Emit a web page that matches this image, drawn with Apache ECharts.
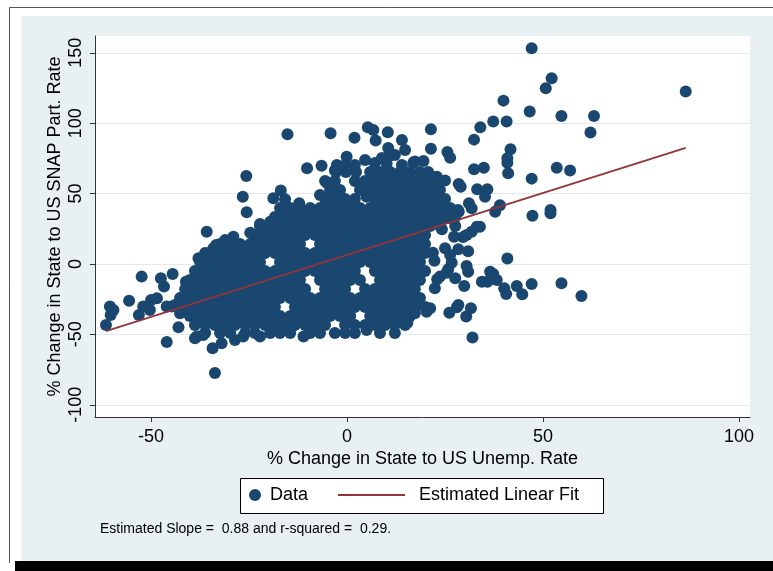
<!DOCTYPE html>
<html>
<head>
<meta charset="utf-8">
<script src="https://cdn.jsdelivr.net/npm/echarts@6/dist/echarts.min.js"></script>
<style>
  html, body { margin: 0; padding: 0; background: #ffffff; }
  #chart { width: 773px; height: 571px; }
</style>
</head>
<body>
<div id="chart"></div>
<script>
// Axis ticks
const xTicks = [-50, 0, 50, 100];
const yTicks = [-100, -50, 0, 50, 100, 150];

// Regression summary
const fitSlope = 0.88;
const fitIntercept = 6.4;
const rSquared = 0.29;

// State observations: [% change in unemployment ratio, % change in SNAP participation ratio]
const upperPoints = [
  [47.1,153.2],[52.2,131.9],[50.7,124.8],[86.4,122.4],[39.9,116.0],[46.6,108.2],[54.7,105.1],[63.0,105.1],
  [37.3,101.1],[40.7,101.1],[34.0,97.1],[62.1,93.3],[21.4,95.7],[14.0,88.1],[32.4,88.3],[21.4,81.9],
  [25.6,79.5],[26.3,75.5],[41.7,81.5],[40.9,75.1],[40.9,71.9],[41.1,64.4],[32.4,67.3],[34.9,68.4],
  [47.1,60.6],[53.5,68.4],[56.9,66.3],[28.5,56.8],[29.0,54.9],[33.2,53.1],[35.8,53.1],[35.2,47.8],
  [39.0,41.7],[37.8,37.1],[47.3,34.3],[51.9,38.4],[51.9,36.0],[31.1,43.1],[31.8,39.6],[28.5,37.1],
  [22.4,49.0],[21.4,62.0],[22.9,62.0],[25.0,59.2],[17.3,72.7],[19.5,73.2],
  [-15.2,92.1],[-4.2,92.8],[1.9,89.7],[5.3,97.1],[6.7,95.2],[7.3,87.6],[10.4,93.5],
  [-0.1,76.2],[-10.2,68.0],[-6.5,69.8],[-2.6,70.3],[-3.1,66.3],[-0.5,70.3],[10.7,76.7],[10.1,71.5],
  [14.0,70.3],[16.9,71.9],[-25.7,62.5],[-5.0,57.3],[-26.6,47.8],[-25.6,36.7],[-18.8,46.7],[-16.9,52.1],
  [-12.2,43.1],[-14.5,38.4],[-6.9,49.0],[-5.2,43.1],[5.0,47.8],[-15.8,46.0],[-19.6,30.0],[-22.2,28.4],
  [-24.7,22.2],[-21.4,20.6],[-26.0,11.9],
  [10.5,82.4],[12.2,77.4],[14.8,81.0],[8.9,75.3],[7.1,71.7],[4.6,73.9],[2.0,70.3],
  [20.7,61.8],[23.0,45.5],[20.7,38.4],[23.2,38.4],[28.3,38.4],[29.6,19.2]
];

const rightPoints = [
  [26.3,32.5],[27.6,27.0],[33.1,26.5],[33.9,26.5],[24.2,24.6],[31.8,22.9],[30.5,20.6],[27.3,19.4],
  [19.9,14.2],[25.0,11.2],[28.4,10.4],[30.9,9.0],[21.9,8.0],[22.3,2.3],[26.3,6.4],[26.7,0.9],
  [40.9,3.8],[30.5,-1.4],[30.9,-5.5],[25.8,-3.8],[25.4,-6.2],[36.5,-5.5],[37.3,-7.1],[38.2,-11.4],
  [34.4,-12.6],[35.8,-12.6],[23.7,-9.0],[23.0,-10.9],[27.6,-10.2],[18.2,-10.9],[29.9,-15.6],[22.4,-17.3],
  [40.1,-17.3],[40.6,-21.3],[43.3,-15.6],[44.7,-21.5],[47.1,-14.2],[54.7,-13.7],[59.8,-22.7],
  [21.2,-31.5],[20.3,-33.9],[26.1,-34.6],[28.0,-30.8],[28.4,-29.1],[31.6,-31.5],[30.4,-37.4],
  [17.3,-35.0],[15.4,-41.7],[32.0,-52.3]
];

const leftPoints = [
  [-61.5,-43.3],[-60.3,-36.2],[-59.6,-32.7],[-60.5,-30.3],[-55.6,-26.1],[-52.4,-9.0],[-53.1,-36.2],
  [-52.0,-30.3],[-50.3,-32.7],[-50.0,-25.6],[-48.5,-24.4],[-47.5,-10.2],[-46.7,-16.1],[-44.5,-7.1],
  [-46.0,-30.3],[-44.7,-30.3],[-43.0,-45.0],[-46.0,-55.4],[-41.1,-12.6],[-41.8,-23.2],[-37.9,4.0],
  [-37.1,-1.9],[-35.8,22.9],[-33.7,-77.4],[-34.3,-59.9],[-38.3,-51.6],[-36.7,-50.4],[-33.4,13.5],
  [-31.1,17.0],[-29.0,19.4],[-22.2,-51.6],[-11.1,-51.6],[5.0,-46.9],[-42.6,-35.0],[-40.9,-32.7],
  [-38.8,-52.8],[-32.0,-56.3],[-28.6,-54.0],[-26.5,-51.6],[-43.9,-29.1],[-30.3,14.7],[-28.6,12.3],
  [-29.4,5.2],[-27.7,7.6],[-35.4,7.6],[-34.1,11.2],[-32.8,13.5]
];

// Central mass, one row of x values per y level
const coreRows = [
  [65.3, [-2.8,-0.3,2.3,5.9,8.4,11.0,13.5,16.1,18.6,20.7]],
  [58.9, [-5.6,-3.1,2.0,4.6,7.1,9.7,12.2,14.8,17.3,19.9,22.4]],
  [52.6, [-4.3,-1.8,3.3,5.9,8.4,11.0,13.5,16.1,18.6,21.2,23.7]],
  [46.2, [-5.6,-3.1,-0.5,2.0,7.1,9.7,12.2,14.8,17.3,19.9,22.4,25.0]],
  [39.8, [-17.1,-14.5,-12.0,-9.4,-6.9,-4.3,-1.8,0.8,3.3,5.9,8.4,11.0,13.5,16.1,18.6,21.2,23.7,26.3]],
  [33.4, [-18.4,-15.8,-13.3,-10.7,-8.2,-5.6,-3.1,-0.5,2.0,4.6,7.1,9.7,12.2,14.8,17.3,19.9,22.4,25.0,27.6]],
  [27.0, [-22.2,-19.6,-17.1,-14.5,-12.0,-9.4,-6.9,-4.3,-1.8,0.8,3.3,5.9,8.4,11.0,13.5,16.1,18.6,21.2,23.7]],
  [20.6, [-23.5,-20.9,-18.4,-15.8,-13.3,-10.7,-8.2,-5.6,-3.1,-0.5,2.0,4.6,7.1,9.7,12.2,14.8,17.3,19.9]],
  [14.2, [-32.4,-29.8,-27.3,-24.7,-22.2,-19.6,-17.1,-14.5,-12.0,-6.9,-4.3,-1.8,0.8,3.3,5.9,8.4,11.0,13.5,16.1,18.6]],
  [7.8, [-36.2,-33.7,-31.1,-26.0,-23.5,-20.9,-18.4,-15.8,-13.3,-10.7,-8.2,-5.6,-3.1,-0.5,2.0,4.6,7.1,9.7,12.2,14.8,17.3,19.9]],
  [1.4, [-37.5,-34.9,-32.4,-29.8,-27.3,-24.7,-22.2,-17.1,-14.5,-12.0,-9.4,-6.9,-4.3,-1.8,0.8,3.3,5.9,8.4,11.0,13.5,16.1,18.6]],
  [-5.0, [-38.8,-36.2,-33.7,-31.1,-28.6,-26.0,-23.5,-20.9,-18.4,-15.8,-13.3,-10.7,-8.2,-5.6,-3.1,-0.5,2.0,7.1,9.7,12.2,14.8,17.3,19.9]],
  [-11.4, [-40.1,-37.5,-34.9,-32.4,-29.8,-27.3,-24.7,-22.2,-19.6,-17.1,-14.5,-12.0,-6.9,-4.3,-1.8,0.8,3.3,8.4,11.0,13.5,16.1,18.6]],
  [-17.8, [-41.3,-38.8,-36.2,-33.7,-31.1,-28.6,-26.0,-23.5,-20.9,-18.4,-15.8,-13.3,-10.7,-5.6,-3.1,-0.5,4.6,7.1,9.7,12.2,14.8,17.3]],
  [-24.1, [-42.6,-40.1,-37.5,-34.9,-32.4,-29.8,-27.3,-24.7,-22.2,-19.6,-17.1,-14.5,-12.0,-9.4,-6.9,-4.3,-1.8,0.8,3.3,5.9,8.4,11.0,13.5,16.1,18.6]],
  [-30.5, [-41.3,-38.8,-36.2,-33.7,-31.1,-28.6,-26.0,-23.5,-20.9,-18.4,-13.3,-10.7,-8.2,-5.6,-3.1,-0.5,2.0,4.6,7.1,9.7,12.2,14.8,17.3,19.9]],
  [-36.9, [-40.1,-37.5,-34.9,-32.4,-29.8,-27.3,-24.7,-22.2,-19.6,-17.1,-14.5,-12.0,-9.4,-6.9,-4.3,-1.8,0.8,5.9,8.4,11.0,13.5,16.1]],
  [-43.3, [-38.8,-36.2,-33.7,-31.1,-28.6,-26.0,-23.5,-20.9,-18.4,-15.8,-13.3,-10.7,-8.2,-5.6,-0.5,2.0,4.6,7.1,9.7,12.2,14.8]],
  [-49.0, [-36.2,-32.4,-29.8,-26.0,-23.5,-19.6,-17.1,-14.5,-9.4,-6.9,-3.1,-0.5,2.0,8.4,12.2]]
];

const corePoints = [];
coreRows.forEach(([y, xs]) => xs.forEach(x => corePoints.push([x, y])));

const scatterData = [].concat(leftPoints, corePoints, rightPoints, upperPoints);

// Fitted line spans the observed x range
const xs = scatterData.map(p => p[0]);
const xLo = Math.min(...xs), xHi = Math.max(...xs);
const fitData = [[xLo, fitIntercept + fitSlope * xLo], [xHi, fitIntercept + fitSlope * xHi]];

const FONT = '"Liberation Sans", Arial, Helvetica, sans-serif';
const NAVY = '#1a476f';
const MAROON = '#90353b';

const chart = echarts.init(document.getElementById('chart'), null, { renderer: 'canvas' });

chart.setOption({
  animation: false,
  backgroundColor: '#ffffff',
  textStyle: { fontFamily: FONT },
  graphic: [
    // outer frame lines
    { type: 'line', z: -20, shape: { x1: 9.5, y1: 7.5, x2: 773, y2: 7.5 }, style: { stroke: '#555', lineWidth: 1 } },
    { type: 'line', z: -20, shape: { x1: 9.5, y1: 7.5, x2: 9.5, y2: 563 }, style: { stroke: '#555', lineWidth: 1 } },
    // graph region background
    { type: 'rect', z: -20, shape: { x: 21, y: 16, width: 752, height: 545 }, style: { fill: '#e9f0f2' } },
    // bottom rule
    { type: 'rect', z: -20, shape: { x: 15, y: 561, width: 758, height: 10 }, style: { fill: '#000000' } },
    // legend box
    { type: 'rect', z: 1, shape: { x: 240.5, y: 478.5, width: 363, height: 35 }, style: { fill: '#ffffff', stroke: '#000', lineWidth: 1 } },
    // note
    {
      type: 'text', z: 1, left: 100, top: 522,
      style: {
        text: 'Estimated Slope =  ' + fitSlope.toFixed(2) + ' and r-squared =  ' + rSquared.toFixed(2) + '.',
        font: '14px ' + FONT, fill: '#000'
      }
    }
  ],
  grid: {
    left: 95, right: 23, top: 36, bottom: 154,
    show: true, backgroundColor: '#ffffff', borderWidth: 0
  },
  legend: [
    {
      data: [{ name: 'Data', icon: 'circle' }],
      left: 249, top: 486, padding: 0, itemWidth: 20, itemHeight: 12,
      selectedMode: false,
      textStyle: { fontSize: 18, color: '#000', fontFamily: FONT }
    },
    {
      data: [{ name: 'Estimated Linear Fit', icon: 'path://M0,0 L67,0 L67,2 L0,2 Z' }],
      left: 338, top: 486, padding: 0, itemWidth: 67, itemHeight: 14,
      selectedMode: false,
      formatter: '{g|}{n|Estimated Linear Fit}',
      textStyle: {
        fontSize: 18, color: '#000', fontFamily: FONT,
        rich: { g: { width: 9 }, n: { fontSize: 18, fontFamily: FONT, color: '#000' } }
      }
    }
  ],
  xAxis: {
    type: 'value',
    min: -64.3, max: 102.8,
    name: '% Change in State to US Unemp. Rate',
    nameLocation: 'middle', nameGap: 33, nameMoveOverlap: false,
    nameTextStyle: { fontSize: 18, color: '#000', fontFamily: FONT },
    axisLine: { show: true, onZero: false, lineStyle: { color: '#333', width: 1 } },
    axisTick: { show: true, length: 5, customValues: xTicks, lineStyle: { color: '#333' } },
    axisLabel: { customValues: xTicks, fontSize: 18, color: '#000', margin: 11, fontFamily: FONT },
    splitLine: { show: false }
  },
  yAxis: {
    type: 'value',
    min: -108.7, max: 161.9,
    name: '% Change in State to US SNAP Part. Rate',
    nameLocation: 'middle', nameGap: 31, nameMoveOverlap: false,
    nameTextStyle: { fontSize: 18, color: '#000', fontFamily: FONT },
    axisLine: { show: true, onZero: false, lineStyle: { color: '#333', width: 1 } },
    axisTick: { show: true, length: 5, customValues: yTicks, lineStyle: { color: '#333' } },
    axisLabel: { customValues: yTicks, rotate: 90, fontSize: 18, color: '#000', margin: 10, fontFamily: FONT },
    splitLine: { show: true, customValues: yTicks, lineStyle: { color: '#e2eaed', width: 1 } }
  },
  series: [
    {
      name: 'Data',
      type: 'scatter',
      data: scatterData,
      symbol: 'circle',
      symbolSize: 12,
      itemStyle: { color: NAVY, opacity: 1 },
      z: 2
    },
    {
      name: 'Estimated Linear Fit',
      type: 'line',
      data: fitData,
      symbol: 'none',
      lineStyle: { color: MAROON, width: 1.8 },
      itemStyle: { color: MAROON },
      z: 3
    }
  ]
});
</script>
</body>
</html>
